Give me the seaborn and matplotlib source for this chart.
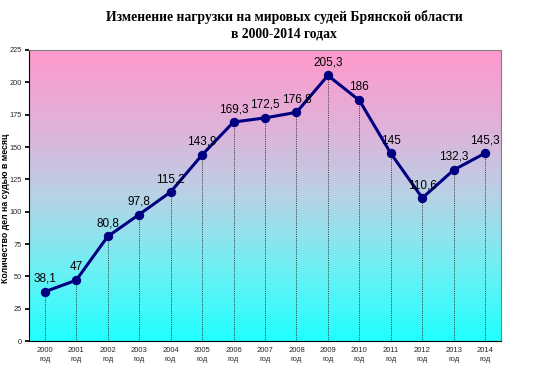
import numpy as np
import pandas as pd
import matplotlib
matplotlib.use("Agg")
import matplotlib.pyplot as plt
import seaborn as sns
from matplotlib.colors import LinearSegmentedColormap

years = ["2000", "2001", "2002", "2003", "2004", "2005", "2006", "2007",
         "2008", "2009", "2010", "2011", "2012", "2013", "2014"]
values = [38.1, 47, 80.8, 97.8, 115.2, 143.9, 169.3, 172.5, 176.8, 205.3,
          186, 145, 110.6, 132.3, 145.3]
tick_labels = [y + "\nгод" for y in years]
title = "Изменение нагрузки на мировых судей Брянской области\nв 2000-2014 годах"
ylabel = "Количество дел на судью в месяц"

sns.set_theme(style="white")
plt.rcParams['font.family'] = ['Liberation Sans', 'DejaVu Sans']

fig = plt.figure(figsize=(5.33, 3.71), dpi=100)
ax = fig.add_axes([29/533, 1 - 341/371, (501-29)/533, (341-50)/371])

df = pd.DataFrame({"x": np.arange(len(years)), "y": values})

# gradient background
cmap = LinearSegmentedColormap.from_list(
    "bg", [(0.0, "#20FFFF"), (0.25, "#6EF0F4"), (0.5, "#B8D2E6"),
           (0.72, "#DDB4DA"), (1.0, "#FF99CC")])
grad = np.linspace(0, 1, 256).reshape(-1, 1)
ax.imshow(grad, aspect="auto", cmap=cmap, origin="lower",
          extent=[-0.5, len(years) - 0.5, 0, 225], zorder=0)

# drop lines
ax.vlines(df["x"], 0, df["y"], colors="#202020", linestyles=(0, (1, 1.2)), linewidth=0.6, zorder=1)

sns.lineplot(data=df, x="x", y="y", ax=ax, color="#000080", linewidth=2.2,
             marker="o", markersize=6, markeredgecolor="#000080", zorder=3)

for xi, yi in zip(df["x"], df["y"]):
    lbl = f"{yi:g}".replace(".", ",")
    ax.annotate(lbl, (xi, yi), xytext=(0, 5), textcoords="offset points",
                ha="center", va="bottom", fontsize=8.5, color="black", zorder=4)

ax.set_xlim(-0.5, len(years) - 0.5)
ax.set_ylim(0, 225)
ax.set_yticks(np.arange(0, 226, 25))
ax.set_yticklabels([str(v) for v in range(0, 226, 25)], fontsize=5.3)
ax.set_xticks(np.arange(len(years)))
ax.set_xticklabels(tick_labels, fontsize=5.5, linespacing=1.5)
ax.set_xticks(np.arange(-0.5, len(years)), minor=True)
ax.tick_params(axis="x", which="major", length=0, pad=4)
ax.tick_params(axis="x", which="minor", length=3, color="black", direction="out")
ax.tick_params(axis="y", length=3, color="black", direction="out", pad=2, left=True)
ax.set_xlabel("")
ax.set_ylabel("")
for s in ax.spines.values():
    s.set_color("#808080")
    s.set_linewidth(0.8)
ax.spines["left"].set_color("black")
ax.spines["bottom"].set_color("black")

fig.text(6/533, 1 - 208/371, ylabel, rotation=90, ha="center", va="center",
         fontsize=6.3, fontweight="bold", color="black")

fig.text(284/533, 1 - 10/371, title, ha="center", va="top", fontsize=9.8,
         fontweight="bold", color="black",
         family=["Liberation Serif", "DejaVu Serif"], linespacing=1.35)

fig.savefig("out.png", dpi=100, facecolor="white")
